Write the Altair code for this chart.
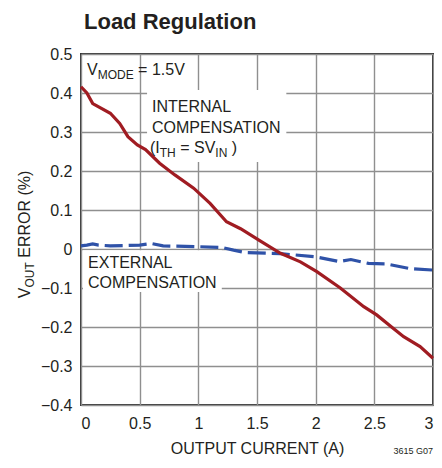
import altair as alt
import pandas as pd

# ---- data ----
int_current = [0, 0.05, 0.1, 0.25, 0.33, 0.4, 0.48, 0.55, 0.67, 0.8, 0.96, 1.1, 1.24, 1.36,
               1.53, 1.7, 1.87, 2.01, 2.21, 2.41, 2.52, 2.66, 2.75, 2.89, 3.0]
int_error = [0.416, 0.40, 0.373, 0.348, 0.322, 0.288, 0.267, 0.255, 0.22, 0.19, 0.156, 0.117,
             0.07, 0.052, 0.02, -0.011, -0.033, -0.058, -0.10, -0.148, -0.169, -0.203, -0.225,
             -0.25, -0.28]

ext_current = [0, 0.05, 0.1, 0.15, 0.25, 0.5, 0.6, 0.7, 1.0, 1.2, 1.3, 1.4, 1.7, 2.0, 2.2,
               2.3, 2.45, 2.6, 2.8, 3.0]
ext_error = [0.008, 0.01, 0.013, 0.01, 0.008, 0.01, 0.014, 0.008, 0.006, 0.004, -0.003,
             -0.009, -0.012, -0.02, -0.032, -0.027, -0.037, -0.038, -0.05, -0.054]

x_ticks = [0, 0.5, 1, 1.5, 2, 2.5, 3]
y_ticks = [-0.4, -0.3, -0.2, -0.1, 0, 0.1, 0.2, 0.3, 0.4, 0.5]

# annotation lines: list of (text, is_subscript) pieces, start (current, error), angle
ann_lines = [
    ([("V", 0), ("MODE", 1), (" = 1.5V", 0)], 0.051, 0.446, 0),
    ([("INTERNAL", 0)], 0.605, 0.351, 0),
    ([("COMPENSATION", 0)], 0.605, 0.297, 0),
    ([("(I", 0), ("TH", 1), (" = SV", 0), ("IN", 1), (" )", 0)], 0.588, 0.246, 0),
    ([("EXTERNAL", 0)], 0.06, -0.049, 0),
    ([("COMPENSATION", 0)], 0.06, -0.1, 0),
    ([("V", 0), ("OUT", 1), (" ERROR (%)", 0)], -0.435, -0.126, 270),
]

# white label backgrounds (break the grid behind the labels)
box_x0 = [0.563, 0.017]
box_x1 = [1.75, 1.2]
box_y0 = [0.223, -0.110]
box_y1 = [0.408, -0.003]

FONT = "Liberation Sans, Arial, sans-serif"
INK = "#231f20"
RED = "#a01c22"
BLUE = "#2f52a8"
FS = 16       # main text size
FS_SUB = 12   # subscript size
SUB_DROP = 4  # subscript baseline drop, px

W, H = 352, 351
PX_X = W / 3.0     # px per A
PX_Y = H / 0.9     # px per % unit

# Arial / Liberation Sans advance widths (per 1000 em)
ADV = {"V": 667, "M": 833, "O": 778, "D": 722, "E": 667, " ": 278, "=": 584, "1": 556,
       ".": 278, "5": 556, "(": 333, "I": 278, "T": 611, "H": 722, "S": 667, "N": 722,
       ")": 333, "U": 722, "R": 722, "%": 889, "X": 667, "A": 667, "L": 556, "C": 722,
       "P": 667}


def text_width(s, size):
    return sum(ADV.get(c, 600) for c in s) * size / 1000.0


rows = []
for pieces, x0, y0, ang in ann_lines:
    off = 0.0
    for txt, sub in pieces:
        size = FS_SUB if sub else FS
        drop = SUB_DROP if sub else 0
        lead = len(txt) - len(txt.lstrip(" "))
        off += text_width(" " * lead, size)   # SVG drops leading blanks
        shown = txt.lstrip(" ")
        if ang == 0:
            cx = x0 + off / PX_X
            cy = y0 - drop / PX_Y
        else:  # rotated 270: text runs upward, "down" is to the right
            cx = x0 + drop / PX_X
            cy = y0 + off / PX_Y
        rows.append({"text": shown, "current": cx, "error": cy, "size": size, "angle": ang})
        off += text_width(shown, size)

df_int = pd.DataFrame({"current": int_current, "error": int_error})
df_ext = pd.DataFrame({"current": ext_current, "error": ext_error})
df_ann = pd.DataFrame(rows)
df_box = pd.DataFrame({"current": box_x0, "current2": box_x1,
                       "error": box_y0, "error2": box_y1})
df_note = pd.DataFrame({"text": ["3615 G07"], "current": [3.0], "error": [-0.526]})

xscale = alt.Scale(domain=[0, 3], nice=False, zero=False)
yscale = alt.Scale(domain=[-0.4, 0.5], nice=False, zero=False)
xaxis = alt.Axis(values=x_ticks, format=".1~f", title="OUTPUT CURRENT (A)",
                 labelPadding=10, titlePadding=9)
yaxis = alt.Axis(values=y_ticks, format=".1~f", title=None, labelPadding=9)

X = alt.X("current:Q", scale=xscale, axis=xaxis)
Y = alt.Y("error:Q", scale=yscale, axis=yaxis)

boxes = alt.Chart(df_box).mark_rect(color="white", strokeWidth=0).encode(
    x=X, x2="current2:Q", y=Y, y2="error2:Q")

ext_line = alt.Chart(df_ext).mark_line(color=BLUE, strokeWidth=3.2,
                                       strokeDash=[18, 6]).encode(x=X, y=Y)
int_line = alt.Chart(df_int).mark_line(color=RED, strokeWidth=3.2).encode(x=X, y=Y)

labels = alt.Chart(df_ann).mark_text(align="left", baseline="alphabetic",
                                     font=FONT, color=INK).encode(
    x=X, y=Y, text="text:N",
    size=alt.Size("size:Q", scale=None),
    angle=alt.Angle("angle:Q", scale=None))

note = alt.Chart(df_note).mark_text(align="right", baseline="alphabetic", font=FONT,
                                    fontSize=9, color=INK).encode(x=X, y=Y, text="text:N")

chart = alt.layer(boxes, ext_line, int_line, labels, note).properties(
    width=W, height=H,
    title=alt.Title("Load Regulation", anchor="start", frame="group", fontSize=22,
                    font=FONT, fontWeight="bold", color=INK, offset=12, dx=3),
    autosize=alt.AutoSizeParams(type="none"),
    padding={"left": 73, "top": 46, "right": 1, "bottom": 52},
).configure_view(
    stroke="#333333", strokeWidth=2
).configure_axis(
    grid=True, gridColor="#8f8f8f", gridWidth=1.4, domain=False, ticks=False,
    labelFont=FONT, labelFontSize=16, labelColor=INK,
    titleFont=FONT, titleFontSize=16, titleColor=INK, titleFontWeight="normal"
)

chart.save("out.html", embed_options={"renderer": "svg", "actions": False})
